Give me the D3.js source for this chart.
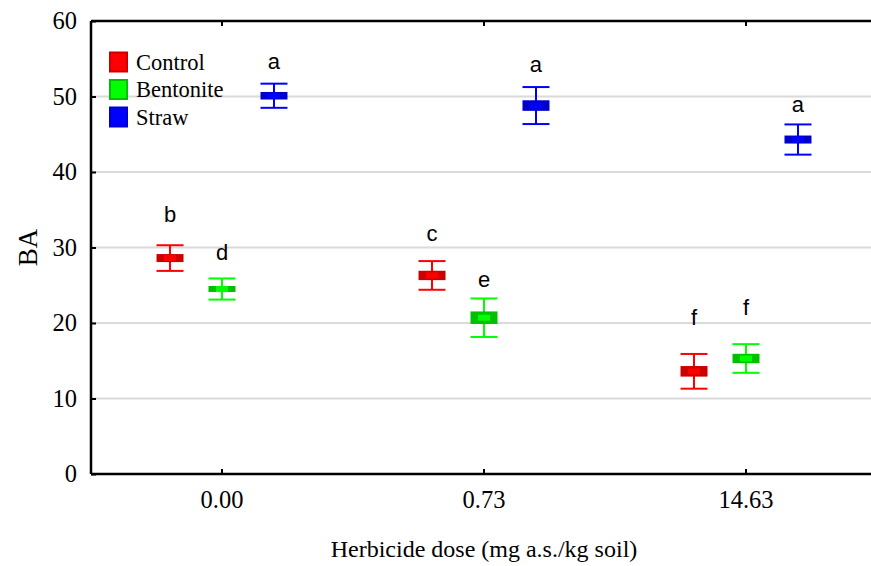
<!DOCTYPE html>
<html>
<head>
<meta charset="utf-8">
<script src="https://cdn.jsdelivr.net/npm/d3@7"></script>
<style>
  body { margin: 0; background: #fff; }
  svg { display: block; }
</style>
</head>
<body>
<svg class="chart" width="871" height="566"></svg>
<script>
// data
var doses = ["0.00", "0.73", "14.63"];
var groups = ["Control", "Bentonite", "Straw"];
// means per group, one value per dose
var controlMean   = [28.6, 26.3, 13.6];
var bentoniteMean = [24.5, 20.7, 15.3];
var strawMean     = [50.1, 48.8, 44.3];
// box half height (se) and whisker half length
var controlSe     = [0.53, 0.62, 0.70];
var bentoniteSe   = [0.40, 0.83, 0.62];
var strawSe       = [0.50, 0.70, 0.53];
var controlErr    = [1.70, 1.90, 2.30];
var bentoniteErr  = [1.40, 2.55, 1.90];
var strawErr      = [1.60, 2.45, 2.00];
// significance letters and their height (in BA units)
var controlLetter   = ["b", "c", "f"];
var bentoniteLetter = ["d", "e", "f"];
var strawLetter     = ["a", "a", "a"];
var controlLetterY   = [33.4, 30.9, 19.7];
var bentoniteLetterY = [28.3, 24.8, 21.1];
var strawLetterY     = [53.6, 53.3, 48.0];
var yTicks = [0, 10, 20, 30, 40, 50, 60];

var colors = {Control: ["#ff0000", "#cc0000"], Bentonite: ["#00ff00", "#00c000"], Straw: ["#0000ff", "#0000cc"]};

var rows = [];
[[controlMean, controlSe, controlErr, controlLetter, controlLetterY],
 [bentoniteMean, bentoniteSe, bentoniteErr, bentoniteLetter, bentoniteLetterY],
 [strawMean, strawSe, strawErr, strawLetter, strawLetterY]].forEach(function(s, gi) {
  doses.forEach(function(d, i) {
    rows.push({group: groups[gi], dose: d, mean: s[0][i], se: s[1][i], err: s[2][i], letter: s[3][i], ly: s[4][i]});
  });
});

var m_left = 91, m_top = 21, m_bottom = 474, m_right = 877;
var svg = d3.select(".chart");
var serif = "'Liberation Serif', 'Times New Roman', serif";
var sans = "'Liberation Sans', Arial, sans-serif";

var x = d3.scaleBand().domain(doses).range([m_left, m_right]).padding(0);
var xs = d3.scalePoint().domain(groups).range([0, x.bandwidth()]).padding(1.52);
var y = d3.scaleLinear().domain([0, 60]).range([m_bottom, m_top]);

function cx(d) { return x(d.dose) + xs(d.group); }

// grid
svg.append("g").selectAll("line")
  .data(yTicks.filter(function(t) { return t > 0 && t < 60; }))
  .enter().append("line")
  .attr("x1", m_left).attr("x2", m_right)
  .attr("y1", function(d) { return y(d); }).attr("y2", function(d) { return y(d); })
  .attr("stroke", "#dadada").attr("stroke-width", 2);

// axes
var yAxis = svg.append("g").attr("transform", "translate(" + m_left + ",0)")
  .call(d3.axisLeft(y).tickValues(yTicks).tickSize(-5).tickPadding(14));
var xAxis = svg.append("g").attr("transform", "translate(0," + m_bottom + ")")
  .call(d3.axisBottom(x).tickSize(-5).tickPadding(17));
var xTop = svg.append("g").attr("transform", "translate(0," + m_top + ")")
  .call(d3.axisTop(x).tickSize(-5).tickFormat(""));
[yAxis, xAxis, xTop].forEach(function(g) {
  g.select(".domain").attr("stroke", "#000").attr("stroke-width", 2.5);
  g.selectAll(".tick line").attr("stroke", "#000").attr("stroke-width", 2);
  g.selectAll(".tick text").attr("fill", "#000").style("font-family", serif).style("font-size", "24.5px");
});
yAxis.select(".domain").attr("d", "M0," + m_top + "V" + m_bottom);
xAxis.select(".domain").attr("d", "M" + m_left + ",0H" + m_right);
xTop.select(".domain").attr("d", "M" + m_left + ",0H" + m_right);

// error bars
var pts = svg.append("g").selectAll("g").data(rows).enter().append("g");
var capW = 27;
pts.append("line")
  .attr("x1", cx).attr("x2", cx)
  .attr("y1", function(d) { return y(d.mean + d.err); })
  .attr("y2", function(d) { return y(d.mean - d.err); })
  .attr("stroke", function(d) { return colors[d.group][0]; }).attr("stroke-width", 2);
[1, -1].forEach(function(sign) {
  pts.append("line")
    .attr("x1", function(d) { return cx(d) - capW / 2; })
    .attr("x2", function(d) { return cx(d) + capW / 2; })
    .attr("y1", function(d) { return y(d.mean + sign * d.err); })
    .attr("y2", function(d) { return y(d.mean + sign * d.err); })
    .attr("stroke", function(d) { return colors[d.group][0]; }).attr("stroke-width", 2);
});
pts.append("rect")
  .attr("x", function(d) { return cx(d) - capW / 2; })
  .attr("width", capW)
  .attr("y", function(d) { return y(d.mean + d.se); })
  .attr("height", function(d) { return y(d.mean - d.se) - y(d.mean + d.se); })
  .attr("fill", function(d) { return colors[d.group][1]; });
pts.append("rect")
  .attr("x", function(d) { return cx(d) - 6; })
  .attr("width", 12)
  .attr("y", function(d) { return y(d.mean) - 3; })
  .attr("height", 6)
  .attr("fill", function(d) { return colors[d.group][0]; });
pts.append("text")
  .attr("x", cx)
  .attr("y", function(d) { return y(d.ly); })
  .attr("text-anchor", "middle")
  .style("font-family", sans).style("font-size", "22px")
  .text(function(d) { return d.letter; });

// legend
var legend = svg.append("g").selectAll("g").data(groups).enter().append("g")
  .attr("transform", function(d, i) { return "translate(109," + (62 + i * 27.5) + ")"; });
legend.append("rect")
  .attr("x", 1).attr("y", -9.5).attr("width", 17).attr("height", 19)
  .attr("fill", function(d) { return colors[d][0]; })
  .attr("stroke", function(d) { return colors[d][1]; }).attr("stroke-width", 2);
legend.append("text")
  .attr("x", 27).attr("dy", "0.35em")
  .style("font-family", serif).style("font-size", "22.5px")
  .text(function(d) { return d; });

// axis titles
svg.append("text")
  .attr("transform", "translate(37," + y(30) + ") rotate(-90)")
  .attr("text-anchor", "middle")
  .style("font-family", serif).style("font-size", "27px")
  .text("BA");
svg.append("text")
  .attr("x", (m_left + m_right) / 2).attr("y", 557)
  .attr("text-anchor", "middle")
  .style("font-family", serif).style("font-size", "24px")
  .text("Herbicide dose (mg a.s./kg soil)");
</script>
</body>
</html>
